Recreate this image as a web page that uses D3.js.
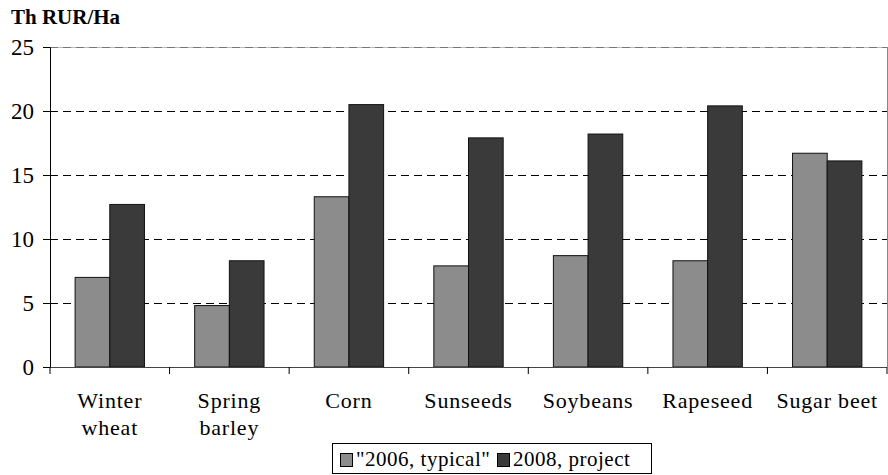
<!DOCTYPE html>
<html><head><meta charset="utf-8">
<script src="https://cdn.jsdelivr.net/npm/d3@7"></script>
<style>body{margin:0;background:#fff}svg{display:block}</style>
</head><body><svg id="c" width="888" height="475"></svg>
<script>
const categories = [["Winter","wheat"],["Spring","barley"],["Corn"],["Sunseeds"],["Soybeans"],["Rapeseed"],["Sugar beet"]];
const seriesNames = ["\"2006, typical\"", "2008, project"];
const values2006 = [7.0, 4.8, 13.3, 7.9, 8.7, 8.3, 16.7];
const values2008 = [12.7, 8.3, 20.5, 17.9, 18.2, 20.4, 16.1];
const yTicks = [0, 5, 10, 15, 20, 25];
const colors = ["#8c8c8c", "#3a3a3a"];
const FONT = "\"Liberation Serif\"";

const svg = d3.select("#c");
const L = 50, R = 887, T = 47, B = 367;
const x = d3.scaleBand().domain(d3.range(categories.length)).range([L, R]);
const y = d3.scaleLinear().domain([0, 25]).range([B, T]);
const bw = x.bandwidth();
const barW = bw * 0.29;

// top solid gray border + right border
svg.append("line").attr("x1", L).attr("x2", R).attr("y1", T).attr("y2", T).attr("stroke", "#bbb").attr("shape-rendering","crispEdges");
svg.append("line").attr("x1", R).attr("x2", R).attr("y1", T).attr("y2", B).attr("stroke", "#888").attr("shape-rendering","crispEdges");
// gridlines
svg.append("g").selectAll("line").data(yTicks.filter(d => d > 0)).join("line")
  .attr("x1", L).attr("x2", R).attr("y1", d => y(d)).attr("y2", d => y(d))
  .attr("stroke", d => d === 25 ? "#777" : "#000").attr("stroke-width", 1).attr("stroke-dasharray", "8,5")
  .attr("shape-rendering", "crispEdges");

// bars
const data = categories.map((c, i) => [values2006[i], values2008[i]]);
const g = svg.append("g");
data.forEach((vals, i) => {
  vals.forEach((v, s) => {
    g.append("rect")
      .attr("x", x(i) + bw / 2 - barW + s * barW)
      .attr("y", y(v)).attr("width", barW).attr("height", y(0) - y(v))
      .attr("fill", colors[s]).attr("stroke", "#111").attr("stroke-width", 1);
  });
});

// y axis
const yAxis = d3.axisLeft(y).tickValues(yTicks).tickSize(7).tickPadding(9).tickFormat(d3.format("d"));
const ya = svg.append("g").attr("transform", `translate(${L},0)`).call(yAxis).attr("font-family", null);
ya.select(".domain").attr("stroke", "#000");
ya.selectAll("line").attr("stroke", "#000");
ya.selectAll("text").style("font-family", FONT).style("font-size", "23px").attr("dy", "0.34em").attr("fill", "#000");

// x axis
const xa = svg.append("g").attr("transform", `translate(0,${B})`);
xa.append("line").attr("x1", L).attr("x2", R).attr("stroke", "#444").attr("shape-rendering","crispEdges");
const tickXs = d3.range(categories.length + 1).map(i => L + i * bw);
xa.selectAll(".tk").data(tickXs).join("line").attr("class","tk")
  .attr("x1", d => d).attr("x2", d => d).attr("y1", 0).attr("y2", 7).attr("stroke", "#000");
xa.selectAll(".lbl").data(categories).join("text").attr("class","lbl")
  .attr("y", 41).attr("text-anchor", "middle")
  .style("font-family", FONT).style("font-size", "22px").style("letter-spacing", "0.8px")
  .each(function(d, i) {
    const t = d3.select(this);
    d.forEach((line, k) => t.append("tspan").attr("x", x(i) + bw / 2).attr("dy", k === 0 ? 0 : 27).text(line));
  });

// title
svg.append("text").attr("x", 11).attr("y", 24).style("font-family", FONT).style("font-size", "21px").style("font-weight", "bold").text("Th RUR/Ha");

// legend
const lg = svg.append("g");
lg.append("rect").attr("x", 332.5).attr("y", 443.5).attr("width", 319).attr("height", 30).attr("fill", "#fff").attr("stroke", "#000");
const items = [{n: seriesNames[0], c: colors[0], x: 340}, {n: seriesNames[1], c: colors[1], x: 497}];
items.forEach(it => {
  lg.append("rect").attr("x", it.x + 0.5).attr("y", 453.5).attr("width", 12).attr("height", 13).attr("fill", it.c).attr("stroke", "#000");
  lg.append("text").attr("x", it.x + 16).attr("y", 466).style("font-family", FONT).style("font-size", "21px").style("letter-spacing", "0.5px").text(it.n);
});
</script></body></html>
